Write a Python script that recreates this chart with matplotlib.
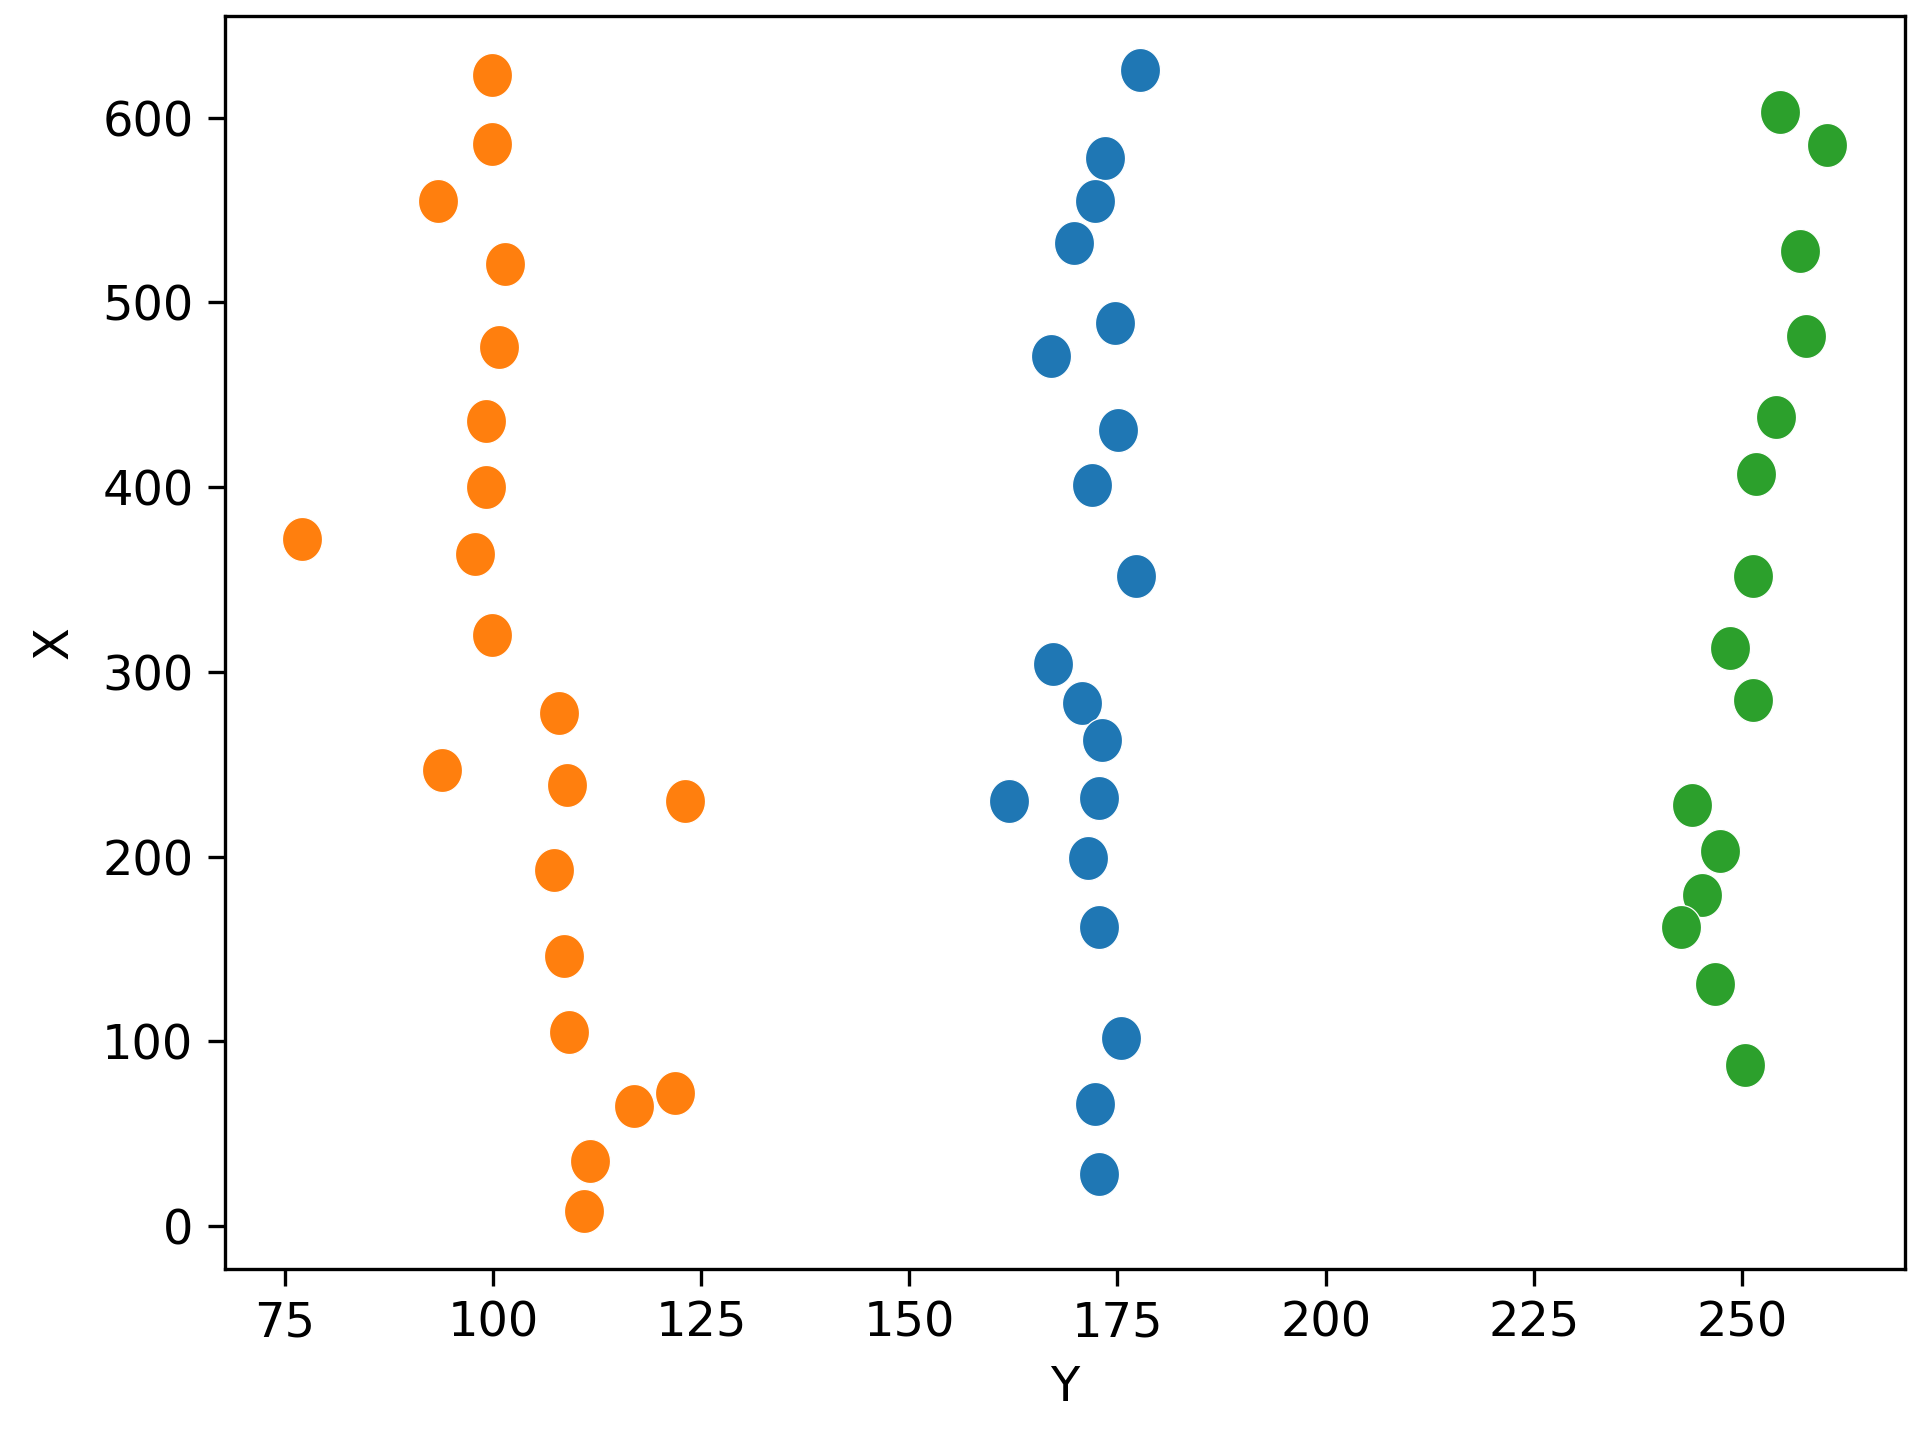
import numpy as np
import matplotlib
matplotlib.use("Agg")
import matplotlib.pyplot as plt
from matplotlib.path import Path

# orange cluster
orange_y = [99.9, 99.9, 93.4, 101.5, 100.8, 99.2, 99.2, 77.1, 97.9, 99.9,
            108.0, 93.9, 108.9, 123.1, 107.3, 108.5, 109.2, 121.9, 116.9,
            111.7, 111.0]
orange_x = [623, 586, 555, 521, 476, 436, 400, 372, 364, 320,
            278, 247, 239, 230, 193, 146, 105, 72, 65, 35, 8]

# blue cluster
blue_y = [177.7, 173.5, 172.3, 169.8, 174.7, 167.0, 175.1, 171.9, 177.2,
          167.3, 170.7, 173.1, 162.0, 172.8, 171.5, 172.8, 175.4, 172.3, 172.8]
blue_x = [626, 578, 555, 532, 489, 471, 431, 401, 352,
          304, 283, 263, 230, 232, 199, 162, 102, 66, 28]

# green cluster
green_y = [254.5, 260.2, 257.0, 257.7, 254.1, 251.7, 251.3, 248.5, 251.3,
           244.0, 247.3, 245.2, 242.7, 246.8, 250.4]
green_x = [603, 585, 528, 482, 438, 407, 352, 313, 285,
           228, 203, 179, 162, 131, 87]

# reference image is stretched vertically, so markers are slightly tall ellipses
theta = np.linspace(0, 2 * np.pi, 60)
ellipse = Path(np.column_stack([np.cos(theta) / 1.1, np.sin(theta)]), closed=True)

fig = plt.figure(figsize=(1925 / 300, 1432 / 300), dpi=300)
ax = fig.add_axes([0.1167, 0.1141, 0.9898 - 0.1167, 0.9888 - 0.1141])

style = dict(marker=ellipse, s=112, edgecolors="white", linewidths=0.3)
ax.scatter(blue_y, blue_x, color="#1f77b4", **style)
ax.scatter(orange_y, orange_x, color="#ff7f0e", **style)
ax.scatter(green_y, green_x, color="#2ca02c", **style)

ax.set_xlim(67.8, 269.6)
ax.set_ylim(-23, 655)
ax.set_xticks([75, 100, 125, 150, 175, 200, 225, 250])
ax.set_yticks([0, 100, 200, 300, 400, 500, 600])
ax.tick_params(labelsize=11.5, length=4, width=0.8)
ax.set_xlabel("Y", fontsize=11.5, labelpad=4)
ax.set_ylabel("X", fontsize=11.5, labelpad=6)

fig.savefig("out.png", dpi=300)
